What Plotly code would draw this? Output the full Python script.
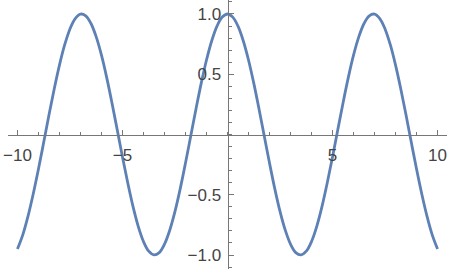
import plotly.graph_objects as go

x_pos = [0, 0.25, 0.5, 0.75, 1.0, 1.25, 1.5, 1.75, 2.0, 2.25, 2.5, 2.75, 3.0, 3.25,
         3.5, 3.75, 4.0, 4.25, 4.5, 4.75, 5.0, 5.25, 5.5, 5.75, 6.0, 6.25, 6.5, 6.75,
         7.0, 7.25, 7.5, 7.75, 8.0, 8.25, 8.5, 8.75, 9.0, 9.25, 9.5, 9.75, 10.0]
y_pos = [1.0, 0.974, 0.899, 0.778, 0.618, 0.426, 0.212, -0.013, -0.237, -0.449,
         -0.638, -0.794, -0.910, -0.980, -0.999, -0.968, -0.888, -0.762, -0.597, -0.401,
         -0.186, 0.039, 0.262, 0.472, 0.658, 0.810, 0.921, 0.985, 0.999, 0.962,
         0.876, 0.745, 0.576, 0.378, 0.161, -0.065, -0.287, -0.494, -0.680, -0.835, -0.95]

xs = [-v for v in x_pos[:0:-1]] + x_pos
ys = y_pos[:0:-1] + y_pos

x_tickvals = [-10, -5, 5, 10]
x_ticktext = ["\u221210", "\u22125", "5", "10"]
y_tickvals = [-1.0, -0.5, 0.5, 1.0]
y_ticktext = ["\u22121.0", "\u22120.5", "0.5", "1.0"]

axis_color = "#777777"
font = dict(family="Liberation Sans, Arial, sans-serif", size=17, color="#444444")

fig = go.Figure()
fig.add_trace(go.Scatter(x=xs, y=ys, mode="lines",
                         line=dict(color="#5E81B5", width=2.8, shape="spline", smoothing=1.0),
                         hoverinfo="skip"))

fig.update_layout(
    width=450, height=274,
    margin=dict(l=8, r=3, t=0, b=5),
    paper_bgcolor="white", plot_bgcolor="white",
    showlegend=False,
    font=font,
    xaxis=dict(range=[-10.45, 10.45], anchor="free", position=0.5,
               showgrid=False, zeroline=False, showline=True, linecolor=axis_color, linewidth=1,
               tickvals=x_tickvals, ticktext=x_ticktext, ticks="inside", ticklen=5,
               tickcolor=axis_color, tickfont=font, ticklabelstandoff=5,
               minor=dict(dtick=1, tick0=0, ticks="inside", ticklen=3, tickcolor=axis_color)),
    yaxis=dict(range=[-1.116, 1.116], anchor="free", position=0.5,
               showgrid=False, zeroline=False, showline=True, linecolor=axis_color, linewidth=1,
               tickvals=y_tickvals, ticktext=y_ticktext, ticks="inside", ticklen=5,
               tickcolor=axis_color, tickfont=font, ticklabelstandoff=3,
               minor=dict(dtick=0.1, tick0=0, ticks="inside", ticklen=3, tickcolor=axis_color)),
)

fig.write_html("out.html")
